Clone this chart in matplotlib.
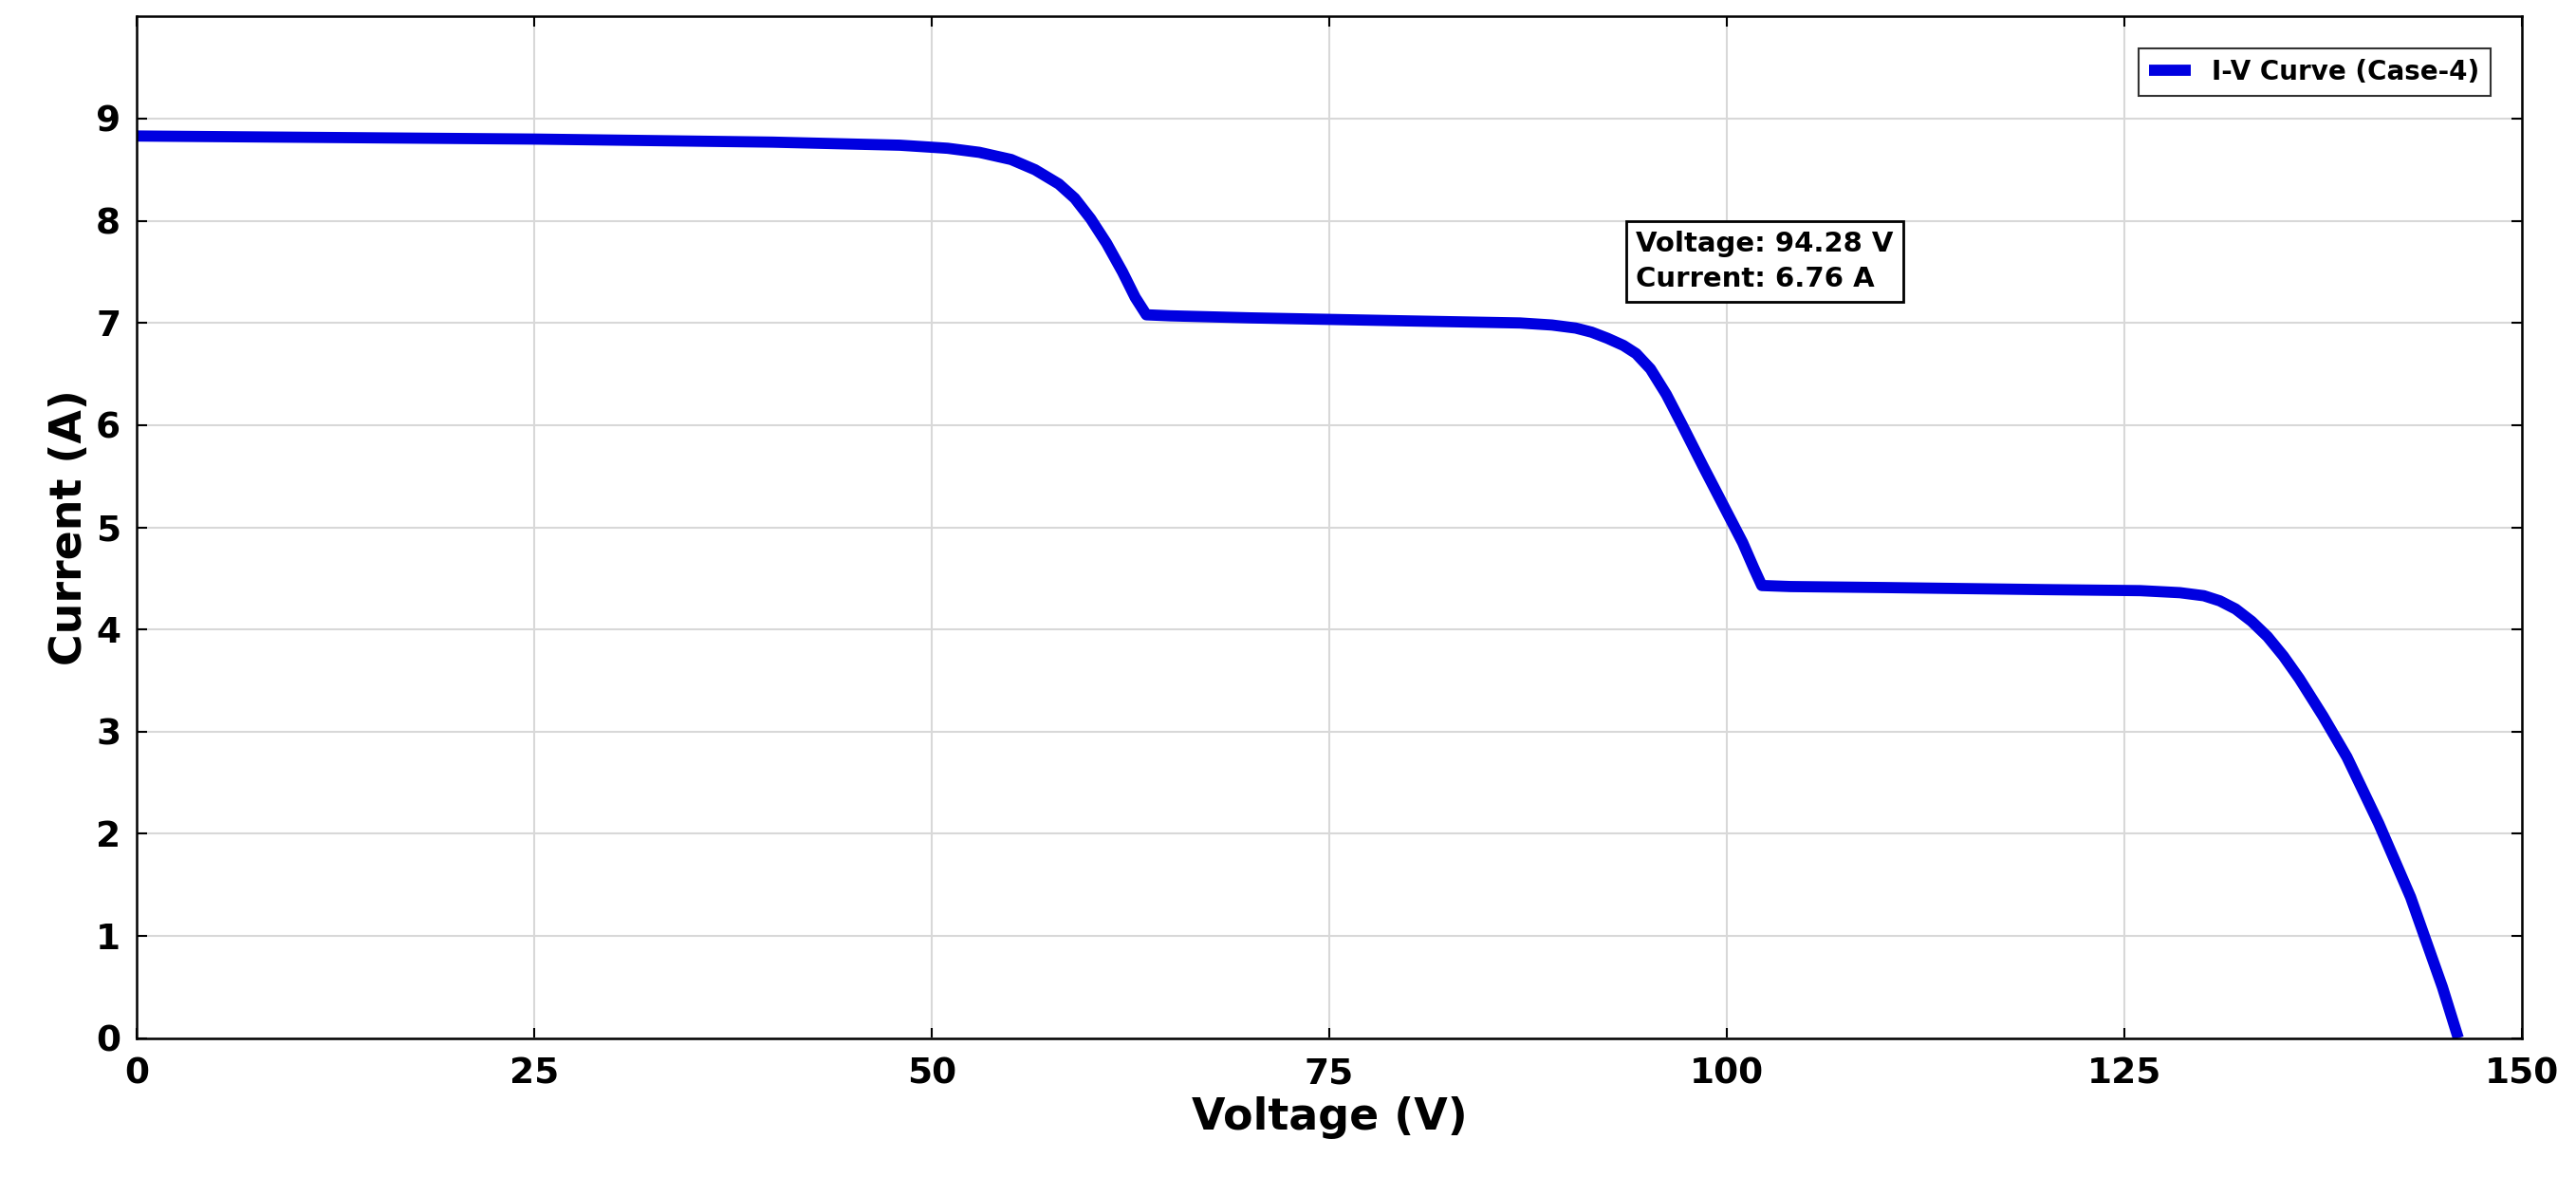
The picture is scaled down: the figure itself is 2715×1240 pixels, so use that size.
import matplotlib
matplotlib.use('Agg')
import matplotlib.pyplot as plt

# I-V curve points
voltage = [0, 25, 40, 48, 51, 53, 55, 56.5, 58, 59, 60, 61, 62, 62.8, 63.5, 65, 70, 80, 87, 89, 90.5,
           91.5, 92.5, 93.5, 94.3, 95.2, 96.2, 97.2, 98.5, 100, 101, 101.7, 102.2, 104, 110, 120, 126,
           128.5, 130, 131, 132, 133, 134, 135, 136, 137.5, 139, 141, 143, 145, 146]
current = [8.83, 8.80, 8.77, 8.74, 8.71, 8.67, 8.6, 8.5, 8.36, 8.22, 8.02, 7.78, 7.5, 7.25, 7.08, 7.07,
           7.05, 7.02, 7.0, 6.98, 6.95, 6.91, 6.85, 6.78, 6.7, 6.55, 6.3, 6.0, 5.6, 5.15, 4.85, 4.6,
           4.43, 4.42, 4.41, 4.39, 4.38, 4.36, 4.33, 4.28, 4.2, 4.08, 3.93, 3.74, 3.52, 3.15, 2.75,
           2.1, 1.38, 0.5, 0.0]

tip_v, tip_i = 94.28, 6.76

fig = plt.figure(figsize=(27.15, 12.4), dpi=100)
ax = fig.add_axes([0.053, 0.118, 0.926, 0.868])
ax.plot(voltage, current, color='#0000e0', lw=8.5, label='I-V Curve (Case-4)',
        solid_joinstyle='round', solid_capstyle='butt')

ax.set_xlim(0, 150)
ax.set_ylim(0, 10)
ax.set_xticks([0, 25, 50, 75, 100, 125, 150])
ax.set_yticks(range(0, 10))
ax.grid(True, color='#d8d8d8', lw=1.5)
ax.tick_params(labelsize=27, width=1.5, length=8, direction='in', top=True, right=True)
ax.tick_params(axis='x', pad=14)
ax.tick_params(axis='y', pad=12)
for lab in ax.get_xticklabels() + ax.get_yticklabels():
    lab.set_fontweight('bold')
for s in ax.spines.values():
    s.set_linewidth(1.8)

ax.set_xlabel('Voltage (V)', fontsize=33, fontweight='bold', labelpad=4)
ax.set_ylabel('Current (A)', fontsize=33, fontweight='bold', labelpad=4)

ax.text(94.3, 7.9, f'Voltage: {tip_v} V\nCurrent: {tip_i} A', fontsize=21, fontweight='bold',
        va='top', ha='left', linespacing=1.4,
        bbox=dict(boxstyle='square,pad=0.35', fc='white', ec='black', lw=2))

leg = ax.legend(loc='upper right', fontsize=20, frameon=True, fancybox=False,
                borderaxespad=1.2, handlelength=1.6)
leg.get_frame().set_edgecolor('black')
leg.get_frame().set_linewidth(1.5)
for t in leg.get_texts():
    t.set_fontweight('bold')

fig.savefig('out.png', dpi=100)
